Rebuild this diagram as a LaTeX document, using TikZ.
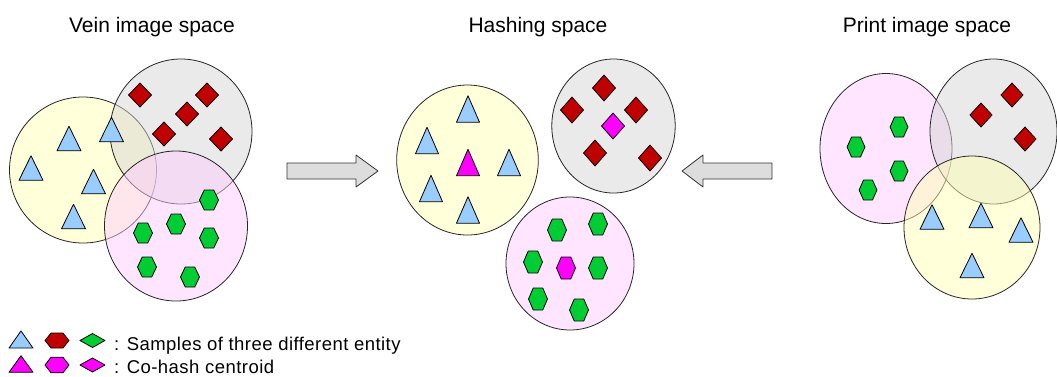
\documentclass[tikz,border=0pt]{standalone}
\usepackage{fontspec}
\setmainfont{Liberation Sans}
\usetikzlibrary{shapes.geometric}

\definecolor{triblue}{RGB}{153,204,255}
\definecolor{diared}{RGB}{192,0,0}
\definecolor{hexgreen}{RGB}{0,204,51}
\definecolor{centroid}{RGB}{255,0,255}
\definecolor{yelzone}{RGB}{255,255,180}
\definecolor{grayzone}{RGB}{214,214,214}
\definecolor{pinkzone}{RGB}{255,204,255}
\definecolor{arrowfill}{RGB}{221,221,221}

\tikzset{
  outline/.style={draw=black, line width=0.8pt, line join=round},
  zone/.style={ellipse, draw=black!85, line width=0.8pt, fill opacity=0.5, inner sep=0pt},
  title/.style={font=\fontsize{21}{24}\selectfont, anchor=base},
  legendtext/.style={font=\fontsize{18.5}{22}\selectfont\addfontfeature{LetterSpace=2.5}, anchor=base west, inner sep=0pt},
  bigarrow/.style={outline, fill=arrowfill, draw=black!80},
  pics/tri/.style={code={\path[outline, fill=#1] (0,-12.25) -- (12,12.25) -- (-12,12.25) -- cycle;}},
  pics/dia/.style={code={\path[outline, fill=#1] (0,-12) -- (11.5,0) -- (0,12) -- (-11.5,0) -- cycle;}},
  pics/hex/.style={code={\path[outline, fill=#1] (-9.5,0) -- (-4.75,-10) -- (4.75,-10) -- (9.5,0) -- (4.75,10) -- (-4.75,10) -- cycle;}},
}

\begin{document}
\begin{tikzpicture}[x=1pt, y=-1pt]
\useasboundingbox (0,0) rectangle (1057,376);

% ---------- titles ----------
\node[title] (tvein)  at (152,32) {Vein image space};
\node[title] (thash)  at (538,32) {Hashing space};
\node[title] (tprint) at (927,32) {Print image space};

% ---------- vein image space ----------
\node[zone, fill=yelzone,  minimum width=147, minimum height=146] (veinY) at (83,170) {};
\node[zone, fill=grayzone, minimum width=142, minimum height=145] (veinG) at (181,131.5) {};
\node[zone, fill=pinkzone, minimum width=143, minimum height=150] (veinP) at (176,226) {};

\foreach \p in {(69,138.5),(111.5,129.5),(31,168),(93.5,181.5),(73.5,216.5)}
  \pic at \p {tri=triblue};
\foreach \p in {(140,95),(207,95),(187,114),(164,134),(221,139)}
  \pic at \p {dia=diared};
\foreach \p in {(209,200),(176,224),(143,233),(209,238),(147,267),(190,277)}
  \pic at \p {hex=hexgreen};

% ---------- hashing space ----------
\node[zone, fill=yelzone,  minimum width=141.6, minimum height=150] (hashY) at (467.5,160) {};
\node[zone, fill=grayzone, minimum width=123.4, minimum height=134] (hashG) at (613.5,126) {};
\node[zone, fill=pinkzone, minimum width=128,   minimum height=133] (hashP) at (570,263.5) {};

\foreach \p in {(468,109),(427,140.5),(509,162.5),(431,188.5),(468,210)}
  \pic[xscale=0.96, yscale=1.08] at \p {tri=triblue};
\pic[xscale=0.96, yscale=1.08] (cTri) at (468,162.5) {tri=centroid};
\foreach \p in {(604,88),(572,110),(636,110),(595,153),(650,158)}
  \pic[yscale=1.08] at \p {dia=diared};
\pic[yscale=1.08] (cDia) at (613,126) {dia=centroid};
\foreach \p in {(557,230),(598,224),(533,262),(598,268),(538,299),(579,310)}
  \pic[yscale=1.1] at \p {hex=hexgreen};
\pic[yscale=1.1] (cHex) at (566,268) {hex=centroid};

% ---------- print image space ----------
\node[zone, fill=pinkzone, minimum width=132, minimum height=150] (printP) at (886,148.5) {};
\node[zone, fill=grayzone, minimum width=127, minimum height=145] (printG) at (993.5,131.5) {};
\node[zone, fill=yelzone,  minimum width=136, minimum height=143] (printY) at (972,227.5) {};

\foreach \p in {(899,127),(856,147),(899,171),(868,190)}
  \pic[xscale=0.94] at \p {hex=hexgreen};
\foreach \p in {(981,115),(1012,95),(1025,139)}
  \pic[xscale=0.96] at \p {dia=diared};
\foreach \p in {(932,217),(981,215.5),(1021,230),(972,265.5)}
  \pic at \p {tri=triblue};

% ---------- mapping arrows ----------
\path[bigarrow] (287,163) -- (356,163) -- (356,155) -- (378,171) -- (356,187) -- (356,179) -- (287,179) -- cycle;
\path[bigarrow] (772,163) -- (703,163) -- (703,155) -- (682,171) -- (703,187) -- (703,179) -- (772,179) -- cycle;

% ---------- legend ----------
\pic[yscale=0.7] (legTriA) at (21,339.5) {tri=triblue};
\pic[xscale=1.26, yscale=0.75] (legHexA) at (57,340.5) {hex=diared};
\pic[xscale=1.09, yscale=0.58] (legDiaA) at (92.5,340.5) {dia=hexgreen};
\pic[yscale=0.68] (legTriB) at (21,364) {tri=centroid};
\pic[xscale=1.26, yscale=0.78] (legHexB) at (57,365) {hex=centroid};
\pic[xscale=1.09, yscale=0.58] (legDiaB) at (92.5,365) {dia=centroid};

\node[legendtext] (legA) at (114,350.5) {: Samples of three different entity};
\node[legendtext] (legB) at (114,373) {: Co-hash centroid};
\end{tikzpicture}
\end{document}
